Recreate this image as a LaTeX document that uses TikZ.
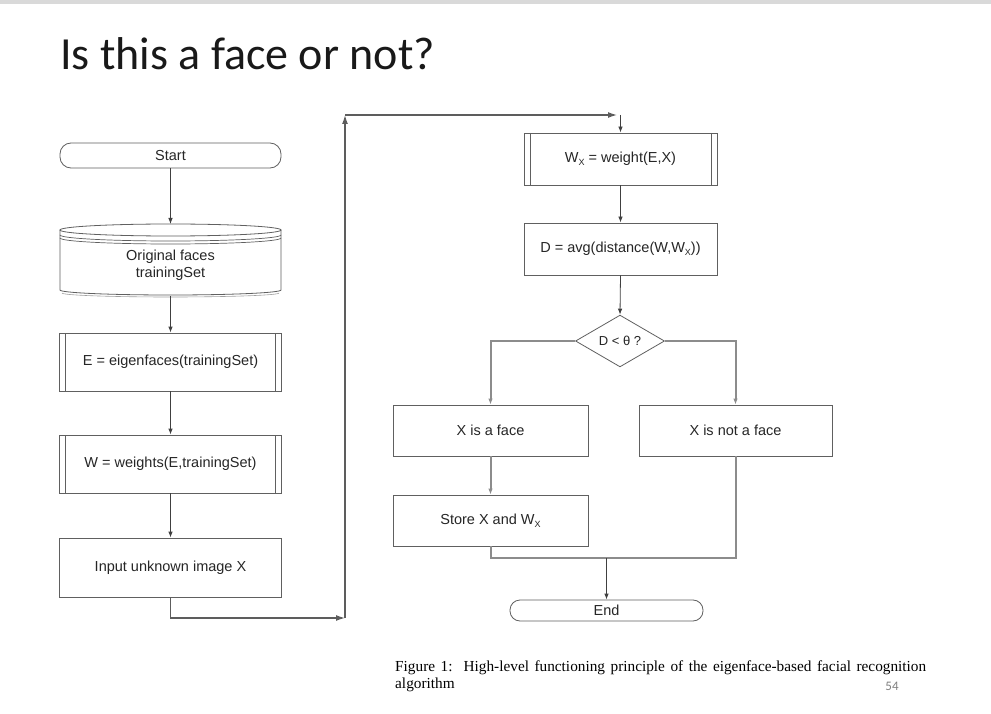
\documentclass[tikz,border=0pt]{standalone}
\usepackage{fontspec}
\setmainfont{Liberation Sans}
\newfontfamily\titlefont{Carlito}
\newfontfamily\capfont{Liberation Serif}
\usetikzlibrary{shapes.geometric,arrows.meta}
\definecolor{boxc}{HTML}{606060}
\definecolor{linec}{HTML}{404040}
\definecolor{grayl}{HTML}{8C8C8C}
\newcommand\subx{\raisebox{-0.4ex}{\fontsize{9}{9}\selectfont X}}
\tikzset{
  x=1pt,y=1pt,
  lbl/.style={font=\fontsize{14.5}{17}\selectfont, text=black!85},
  procbox/.style={lbl, draw=boxc, line width=0.8pt, rectangle, inner sep=0pt, align=center},
  predef/.style={procbox, path picture={
      \draw[boxc, line width=0.7pt] ([xshift=6pt]path picture bounding box.north west) -- ([xshift=6pt]path picture bounding box.south west);
      \draw[boxc, line width=0.7pt] ([xshift=-6pt]path picture bounding box.north east) -- ([xshift=-6pt]path picture bounding box.south east);}},
  termbox/.style={procbox, rounded corners=11pt},
  arr/.style={draw=linec, line width=0.8pt, -{Latex[length=6pt,width=4.5pt]}},
  loopl/.style={draw=linec!85, line width=1.3pt},
  looparr/.style={loopl, -{Latex[length=9pt,width=6pt]}},
  grayline/.style={draw=grayl, line width=2pt},
  grayarr/.style={grayline, -{Latex[length=6pt,width=4.5pt]}}
}
\begin{document}
\begin{tikzpicture}
\useasboundingbox (0,0) rectangle (991,-714);
\fill[white] (0,0) rectangle (991,-714);
\fill[black!15] (0,0) rectangle (991,-4);

\node[anchor=base west, inner sep=0pt, text=black!90, font=\titlefont\fontsize{46}{50}\selectfont] (title) at (60,-70) {Is this a face or not?};

% left column
\node[termbox, minimum width=221, minimum height=25] (start) at (170.5,-155.5) {Start};
\node[lbl, minimum width=221, minimum height=72, inner sep=0pt, align=center] (orig) at (170.5,-265) {Original faces\\trainingSet};
% cylinder drawing
\draw[boxc, line width=0.8pt] (170.5,-230) ellipse [x radius=110.5, y radius=6];
\draw[boxc, line width=0.7pt] (60,-230) -- (60,-235) arc[start angle=180, end angle=360, x radius=110.5, y radius=6] -- (281,-230);
\draw[boxc, line width=0.7pt] (60,-235) -- (60,-238) arc[start angle=180, end angle=360, x radius=110.5, y radius=6] -- (281,-235);
\draw[boxc, line width=0.8pt] (60,-238) -- (60,-290) arc[start angle=180, end angle=360, x radius=110.5, y radius=5] -- (281,-238);
\draw[boxc!60, line width=0.6pt] (62,-293) arc[start angle=180, end angle=360, x radius=108.5, y radius=4];

\node[predef, minimum width=222, minimum height=58] (E) at (170.5,-362) {E = eigenfaces(trainingSet)};
\node[predef, minimum width=222, minimum height=58] (W) at (170.5,-464) {W = weights(E,trainingSet)};
\node[procbox, minimum width=222, minimum height=59] (input) at (170.5,-567.5) {Input unknown image X};

\draw[arr] (start.south) -- (170.5,-224);
\draw[arr] (170.5,-296) -- (E.north);
\draw[arr] (E.south) -- (W.north);
\draw[arr] (W.south) -- (input.north);

% loop
\coordinate (c2) at (345,-618);
\coordinate (c3) at (345,-115);
\coordinate (c4) at (620.5,-115);
\coordinate (c4a) at (617,-115);
\draw[looparr] (input.south) |- (c2);
\draw[looparr] (c2) -- (c3);
\draw[looparr] (c3) -- (c4a);

% right column
\node[predef, minimum width=193, minimum height=52] (Wx) at (620.5,-159) {W\subx{} = weight(E,X)};
\node[procbox, minimum width=193, minimum height=52] (D) at (620.5,-249) {D = avg(distance(W,W\subx))};
\node[lbl, draw=boxc, line width=0.8pt, diamond, minimum width=89, minimum height=51, inner sep=0pt, font=\fontsize{13}{15}\selectfont] (dec) at (620,-341) {D {\textless} θ ?};
\node[procbox, minimum width=195, minimum height=51] (face) at (490.5,-430.5) {X is a face};
\node[procbox, minimum width=193, minimum height=51] (notface) at (735.5,-430.5) {X is not a face};
\node[procbox, minimum width=195, minimum height=51] (store) at (490.5,-520.5) {Store X and W\subx};
\node[termbox, rounded corners=10pt, minimum width=193, minimum height=21] (end) at (606.5,-610.5) {End};

\draw[arr] (c4) -- (Wx.north);
\draw[arr] (Wx.south) -- (D.north);
\draw[arr] (D.south) -- (dec.north);
\draw[grayarr] (dec.west) -| (face.north);
\draw[grayarr] (dec.east) -| (notface.north);
\draw[grayarr] (face.south) -- (store.north);
\coordinate (m) at (606.5,-558);
\draw[grayline] (store.south) |- (m) -| (notface.south);
\draw[arr] (m) -- (end.north);

% caption
\node[anchor=north west, inner sep=0pt, align=left, font=\capfont\fontsize{15.3}{16.5}\selectfont] (cap) at (395,-661) {\makebox[531pt][s]{Figure 1:\ \ High-level functioning principle of the eigenface-based facial recognition}\\algorithm};
\node[anchor=base, inner sep=0pt, text=black!50, font=\titlefont\fontsize{13}{15}\selectfont] (pnum) at (892,-690) {54};
\end{tikzpicture}
\end{document}
